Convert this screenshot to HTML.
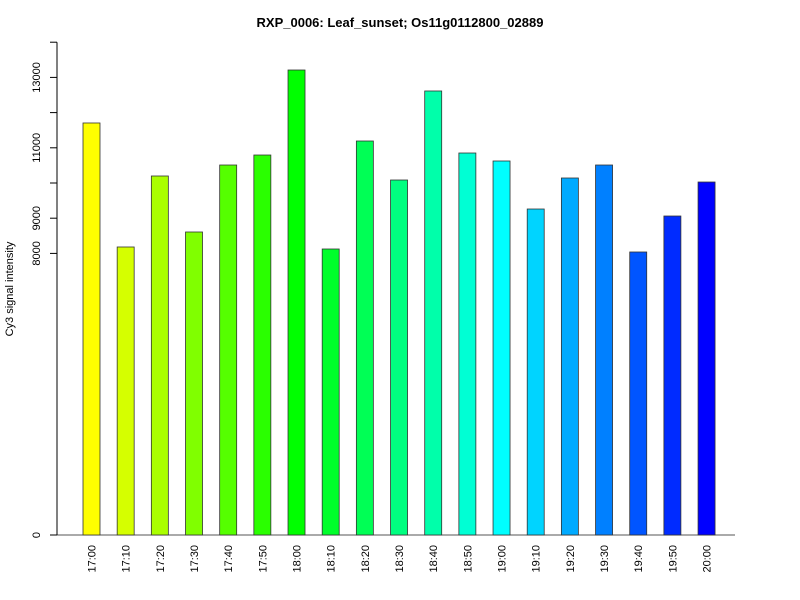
<!DOCTYPE html>
<html><head><meta charset="utf-8"><style>
body{margin:0;background:#fff;}
svg{display:block;font-family:"Liberation Sans",sans-serif;}
</style></head><body>
<svg id="chart" width="800" height="600" xmlns="http://www.w3.org/2000/svg">
<text x="400" y="27" text-anchor="middle" font-size="13" font-weight="bold">RXP_0006: Leaf_sunset; Os11g0112800_02889</text>
<text transform="translate(13,289) rotate(-90)" text-anchor="middle" font-size="11">Cy3 signal intensity</text>
<line x1="50" y1="535" x2="735" y2="535" stroke="#555" stroke-width="1"/>
<g id="yaxis"></g>
<g id="bars"></g>
<g id="xlabels"></g>
</svg>
<script>
const categories=["17:00","17:10","17:20","17:30","17:40","17:50","18:00","18:10","18:20","18:30","18:40","18:50","19:00","19:10","19:20","19:30","19:40","19:50","20:00"];
const values=[11705,8182,10199,8608,10511,10795,13210,8125,11193,10085,12614,10852,10625,9261,10142,10511,8040,9062,10028];
const tickValues=[0,8000,9000,10000,11000,12000,13000,14000];
const tickLabels=["0","8000","9000","","11000","","13000",""];
const NS="http://www.w3.org/2000/svg";
const y=v=>535-v*0.0352;
const x=i=>91.5+i*34.17;
const ya=document.getElementById('yaxis');
let l=document.createElementNS(NS,'line');


l.setAttribute('x1',57);l.setAttribute('x2',57);l.setAttribute('y1',y(0));l.setAttribute('y2',y(14000));l.setAttribute('stroke','#000');
ya.appendChild(l);
tickValues.forEach((t,i)=>{
 const tk=document.createElementNS(NS,'line');
 
 
 tk.setAttribute('x1',50);tk.setAttribute('x2',57);tk.setAttribute('y1',y(t));tk.setAttribute('y2',y(t));tk.setAttribute('stroke','#000');
 ya.appendChild(tk);
 if(tickLabels[i]){
  const tx=document.createElementNS(NS,'text');
  
  
  tx.setAttribute('transform',`translate(40,${y(t)}) rotate(-90)`);
  tx.setAttribute('text-anchor','middle');tx.setAttribute('font-size','11');
  tx.textContent=tickLabels[i];ya.appendChild(tx);
 }
});
const bg=document.getElementById('bars'),xl=document.getElementById('xlabels');
categories.forEach((c,i)=>{
 const r=document.createElementNS(NS,'rect');
 
 
 const hue=60+i*180/(categories.length-1);
 r.setAttribute('x',x(i)-8.5);r.setAttribute('width',17);
 r.setAttribute('y',y(values[i]));r.setAttribute('height',y(0)-y(values[i]));
 r.setAttribute('fill',`hsl(${hue},100%,50%)`);r.setAttribute('stroke','#333');r.setAttribute('stroke-width','0.8');
 bg.appendChild(r);
 const t=document.createElementNS(NS,'text');
 
 
 t.setAttribute('transform',`translate(${x(i)+4},545) rotate(-90)`);
 t.setAttribute('text-anchor','end');t.setAttribute('font-size','11');
 t.textContent=c;xl.appendChild(t);
});
</script>
</body></html>
